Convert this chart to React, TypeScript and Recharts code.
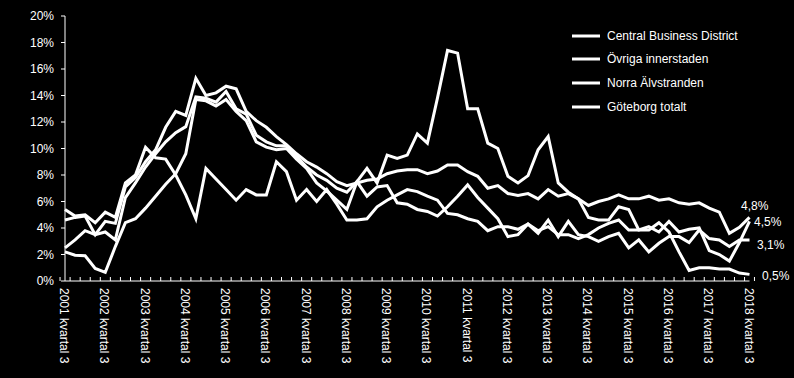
import React from "react";
import { LineChart, Line, XAxis, YAxis, Legend, LabelList } from "recharts";

const quarters = [
  "2001 kvartal 3", "2001 kvartal 4",
  "2002 kvartal 1", "2002 kvartal 2", "2002 kvartal 3", "2002 kvartal 4",
  "2003 kvartal 1", "2003 kvartal 2", "2003 kvartal 3", "2003 kvartal 4",
  "2004 kvartal 1", "2004 kvartal 2", "2004 kvartal 3", "2004 kvartal 4",
  "2005 kvartal 1", "2005 kvartal 2", "2005 kvartal 3", "2005 kvartal 4",
  "2006 kvartal 1", "2006 kvartal 2", "2006 kvartal 3", "2006 kvartal 4",
  "2007 kvartal 1", "2007 kvartal 2", "2007 kvartal 3", "2007 kvartal 4",
  "2008 kvartal 1", "2008 kvartal 2", "2008 kvartal 3", "2008 kvartal 4",
  "2009 kvartal 1", "2009 kvartal 2", "2009 kvartal 3", "2009 kvartal 4",
  "2010 kvartal 1", "2010 kvartal 2", "2010 kvartal 3", "2010 kvartal 4",
  "2011 kvartal 1", "2011 kvartal 2", "2011 kvartal 3", "2011 kvartal 4",
  "2012 kvartal 1", "2012 kvartal 2", "2012 kvartal 3", "2012 kvartal 4",
  "2013 kvartal 1", "2013 kvartal 2", "2013 kvartal 3", "2013 kvartal 4",
  "2014 kvartal 1", "2014 kvartal 2", "2014 kvartal 3", "2014 kvartal 4",
  "2015 kvartal 1", "2015 kvartal 2", "2015 kvartal 3", "2015 kvartal 4",
  "2016 kvartal 1", "2016 kvartal 2", "2016 kvartal 3", "2016 kvartal 4",
  "2017 kvartal 1", "2017 kvartal 2", "2017 kvartal 3", "2017 kvartal 4",
  "2018 kvartal 1", "2018 kvartal 2", "2018 kvartal 3",
];

// Vacancy rates, %
const centralBusinessDistrict = [
  5.4, 4.9, 5.0, 4.4, 5.2, 4.8, 7.4, 8.0, 10.1, 9.3, 9.2, 8.0, 6.5, 4.7, 8.5, 7.7,
  6.9, 6.1, 6.9, 6.5, 6.5, 9.0, 8.25, 6.1, 6.9, 6.0, 6.9, 5.8, 4.6, 4.6, 4.7, 5.6,
  6.1, 6.5, 6.9, 6.75, 6.4, 6.1, 5.1, 5.0, 4.7, 4.5, 3.8, 4.1, 4.1, 3.9, 4.3, 3.8,
  4.1, 3.5, 3.5, 3.2, 3.5, 4.0, 4.35, 4.6, 3.85, 3.85, 4.1, 3.7, 4.5, 3.7, 3.9, 4.0,
  2.3, 2.0, 1.5, 2.9, 4.5,
];
const ovrigaInnerstaden = [
  4.6, 4.8, 4.9, 3.5, 4.5, 4.35, 7.1, 7.8, 9.0, 9.9, 11.6, 12.8, 12.5, 15.3, 14.0, 14.2,
  14.7, 14.5, 12.8, 12.1, 11.6, 10.9, 10.3, 9.6, 9.0, 8.6, 8.1, 7.5, 7.2, 7.4, 7.6, 7.7,
  8.1, 8.3, 8.4, 8.4, 8.1, 8.3, 8.75, 8.75, 8.25, 7.9, 7.0, 7.2, 6.6, 6.45, 6.6, 6.2,
  6.9, 6.4, 6.6, 6.2, 5.7, 6.0, 6.2, 6.5, 6.2, 6.2, 6.4, 6.1, 6.2, 5.9, 5.8, 5.9,
  5.5, 5.2, 3.6, 4.05, 4.8,
];
const norraAlvstranden = [
  2.2, 1.95, 1.9, 0.95, 0.65, 2.6, 4.4, 4.7, 5.5, 6.4, 7.3, 8.1, 9.6, 13.7, 13.6, 13.2,
  13.7, 12.8, 12.1, 10.5, 10.1, 9.9, 10.0, 9.2, 8.5, 7.4, 6.8, 6.1, 5.4, 7.5, 8.5, 7.4,
  9.5, 9.25, 9.5, 11.1, 10.4, 13.8, 17.4, 17.2, 13.0, 13.0, 10.4, 10.0, 7.9, 7.4, 7.95, 9.9,
  10.9, 7.4, 6.7, 6.2, 4.8, 4.6, 4.6, 5.6, 5.4, 3.85, 3.85, 4.4, 3.7, 2.2, 0.8, 1.0,
  1.0, 0.9, 0.9, 0.6, 0.5,
];
const goteborgTotalt = [
  2.5, 3.1, 3.8, 3.5, 3.7, 3.1, 6.3, 7.4, 8.6, 9.6, 10.5, 11.2, 11.65, 13.9, 13.8, 13.5,
  14.3, 13.0, 12.6, 11.0, 10.5, 10.2, 10.2, 9.4, 8.6, 8.0, 7.6, 7.0, 6.7, 7.5, 6.4, 7.1,
  7.2, 5.9, 5.8, 5.4, 5.25, 4.9, 5.6, 6.4, 7.25, 6.3, 5.5, 4.7, 3.35, 3.5, 4.3, 3.6,
  4.6, 3.35, 4.5, 3.5, 3.35, 3.0, 3.35, 3.6, 2.5, 3.1, 2.2, 2.85, 3.35, 3.35, 2.9, 3.85,
  3.2, 3.1, 2.6, 3.1, 3.1,
];

const seriesNames = [
  "Central Business District",
  "Övriga innerstaden",
  "Norra Älvstranden",
  "Göteborg totalt",
];
const yTicks = [0, 2, 4, 6, 8, 10, 12, 14, 16, 18, 20];

const data = quarters.map((q, i) => ({
  q,
  cbd: centralBusinessDistrict[i],
  ovr: ovrigaInnerstaden[i],
  norra: norraAlvstranden[i],
  gbg: goteborgTotalt[i],
}));

const W = 794;
const H = 378;
const Y_AXIS_W = 50;
const MARGIN = { top: 16, right: 44.5, bottom: 7, left: 15 };
const X_AXIS_H = 90;
const PLOT_W = W - MARGIN.left - Y_AXIS_W - MARGIN.right;
const BAND = PLOT_W / quarters.length;
const LAST = quarters.length - 1;
const FONT = "'Liberation Sans', Arial, Helvetica, sans-serif";
const WHITE = "#ffffff";

const fmt = (v: number) => `${v.toFixed(1).replace(".", ",")}%`;

const XTick = (props: any) => {
  const { x, y, payload } = props;
  const idx = quarters.indexOf(payload.value);
  const half = BAND / 2;
  const ty = y + 7;
  return (
    <g>
      <line x1={x - half} x2={x - half} y1={y} y2={y - 4} stroke={WHITE} strokeWidth={1} />
      {idx === LAST && (
        <line x1={x + half} x2={x + half} y1={y} y2={y - 4} stroke={WHITE} strokeWidth={1} />
      )}
      {idx % 4 === 0 && (
        <text
          x={x - 1}
          y={ty}
          transform={`rotate(90, ${x - 1}, ${ty})`}
          textAnchor="start"
          dominantBaseline="central"
          fill={WHITE}
          fontSize={12}
          fontFamily={FONT}
        >
          {payload.value}
        </text>
      )}
    </g>
  );
};

const endLabel = (dx: number, dy: number) => (props: any) => {
  const { x, y, index, value } = props;
  if (index !== LAST) return null;
  return (
    <text
      x={x + dx}
      y={y + dy}
      fill={WHITE}
      fontSize={12}
      fontFamily={FONT}
      dominantBaseline="central"
      textAnchor="start"
    >
      {fmt(value)}
    </text>
  );
};

const LegendContent = () => (
  <div style={{ fontFamily: FONT, fontSize: 12, color: WHITE }}>
    {seriesNames.map((name) => (
      <div
        key={name}
        style={{ display: "flex", alignItems: "center", height: 23.67, whiteSpace: "nowrap" }}
      >
        <svg width={28} height={4} style={{ marginRight: 7, display: "block" }}>
          <line x1={0} x2={28} y1={2} y2={2} stroke={WHITE} strokeWidth={3} />
        </svg>
        <span>{name}</span>
      </div>
    ))}
  </div>
);

export default function App() {
  return (
    <div
      style={{
        position: "fixed",
        left: 0,
        top: 0,
        width: W,
        height: H,
        background: "#000",
        overflow: "hidden",
      }}
    >
      <LineChart width={W} height={H} data={data} margin={MARGIN}>
        <XAxis
          dataKey="q"
          interval={0}
          height={X_AXIS_H}
          tickSize={0}
          tickMargin={0}
          tickLine={false}
          axisLine={{ stroke: WHITE, strokeWidth: 1 }}
          tick={<XTick />}
        />
        <YAxis
          width={Y_AXIS_W}
          domain={[0, 20]}
          ticks={yTicks}
          interval={0}
          tickFormatter={(v: number) => `${v}%`}
          tick={{ fill: WHITE, fontSize: 12, fontFamily: FONT }}
          tickSize={4}
          tickMargin={7}
          tickLine={{ stroke: WHITE }}
          axisLine={{ stroke: WHITE, strokeWidth: 1 }}
        />
        <Legend
          layout="vertical"
          align="center"
          verticalAlign="middle"
          wrapperStyle={{ left: 572, top: 24, width: 220 }}
          content={<LegendContent />}
        />
        <Line
          dataKey="cbd"
          name={seriesNames[0]}
          stroke={WHITE}
          strokeWidth={3}
          dot={false}
          activeDot={false}
          isAnimationActive={false}
        >
          <LabelList dataKey="cbd" content={endLabel(4.5, 0.6)} />
        </Line>
        <Line
          dataKey="ovr"
          name={seriesNames[1]}
          stroke={WHITE}
          strokeWidth={3}
          dot={false}
          activeDot={false}
          isAnimationActive={false}
        >
          <LabelList dataKey="ovr" content={endLabel(-8.5, -11)} />
        </Line>
        <Line
          dataKey="norra"
          name={seriesNames[2]}
          stroke={WHITE}
          strokeWidth={3}
          dot={false}
          activeDot={false}
          isAnimationActive={false}
        >
          <LabelList dataKey="norra" content={endLabel(12.5, 1.6)} />
        </Line>
        <Line
          dataKey="gbg"
          name={seriesNames[3]}
          stroke={WHITE}
          strokeWidth={3}
          dot={false}
          activeDot={false}
          isAnimationActive={false}
        >
          <LabelList dataKey="gbg" content={endLabel(7.5, 5)} />
        </Line>
      </LineChart>
    </div>
  );
}
